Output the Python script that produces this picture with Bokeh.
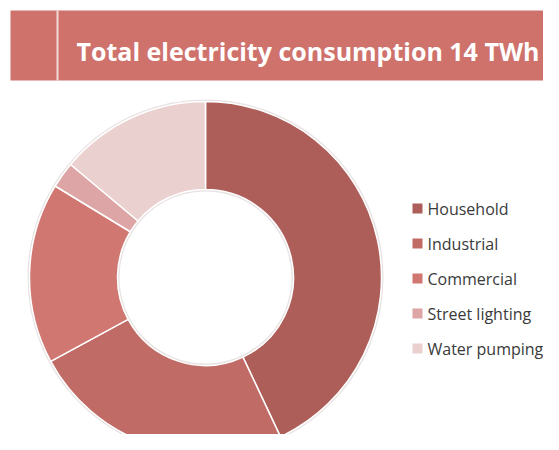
import math
from bokeh.plotting import figure
from bokeh.models import Range1d, ColumnDataSource
from bokeh.core.properties import value
from bokeh.embed import file_html
from bokeh.resources import INLINE

# ---- data ----
title_text = "Total electricity consumption 14 TWh"
categories = ["Household", "Industrial", "Commercial", "Street lighting", "Water pumping"]
shares = [43.0, 24.1, 16.6, 2.4, 13.9]   # percent of total consumption
colors = ["#AE5E59", "#C06B66", "#D17771", "#DDA5A5", "#EBD0D0"]

W, H = 543, 434
p = figure(width=W, height=H, output_backend="svg", toolbar_location=None,
           x_range=Range1d(0, W), y_range=Range1d(0, H),
           min_border=0, outline_line_color=None, background_fill_color="white")
p.axis.visible = False
p.grid.visible = False

def iy(y):
    return H - y

# ---- banner ----
p.quad(left=[10], right=[W + 20], top=[iy(10)], bottom=[iy(80)],
       fill_color="#CF726C", line_color=None)
p.quad(left=[56], right=[58], top=[iy(10)], bottom=[iy(80)],
       fill_color="#F3DAD8", line_color=None)
p.text(x=[76], y=[iy(50)], text=[title_text], text_color="white",
       text_font=value("Open Sans"), text_font_style="bold",
       text_font_size="25px", text_baseline="alphabetic", text_align="left")

# ---- donut ----
total = sum(shares)
starts, ends = [], []
cum = 0.0
for s in shares:
    starts.append(math.pi / 2 - 2 * math.pi * cum / total)
    cum += s
    ends.append(math.pi / 2 - 2 * math.pi * cum / total)

src = ColumnDataSource(dict(cat=categories, share=shares, color=colors,
                            start=starts, end=ends))
cx, cy = 205, iy(277)
p.annulus(x=[cx], y=[cy], inner_radius=87, outer_radius=177,
          fill_color=None, line_color="#E9E2E2", line_width=2)
p.annular_wedge(x=cx, y=cy, inner_radius=88, outer_radius=176,
                start_angle="start", end_angle="end", direction="clock",
                fill_color="color", line_color="white", line_width=1.5,
                source=src)

# ---- legend ----
lx = [417] * len(categories)
ly = [iy(208 + 35 * i) for i in range(len(categories))]
p.rect(x=lx, y=ly, width=10, height=10, fill_color=colors, line_color=None)
p.text(x=[427] * len(categories), y=ly, text=categories, text_color="#3A3A3A",
       text_font=value("Open Sans"), text_font_size="16px",
       text_baseline="middle", text_align="left")

open("out.html", "w").write(file_html(p, INLINE))
